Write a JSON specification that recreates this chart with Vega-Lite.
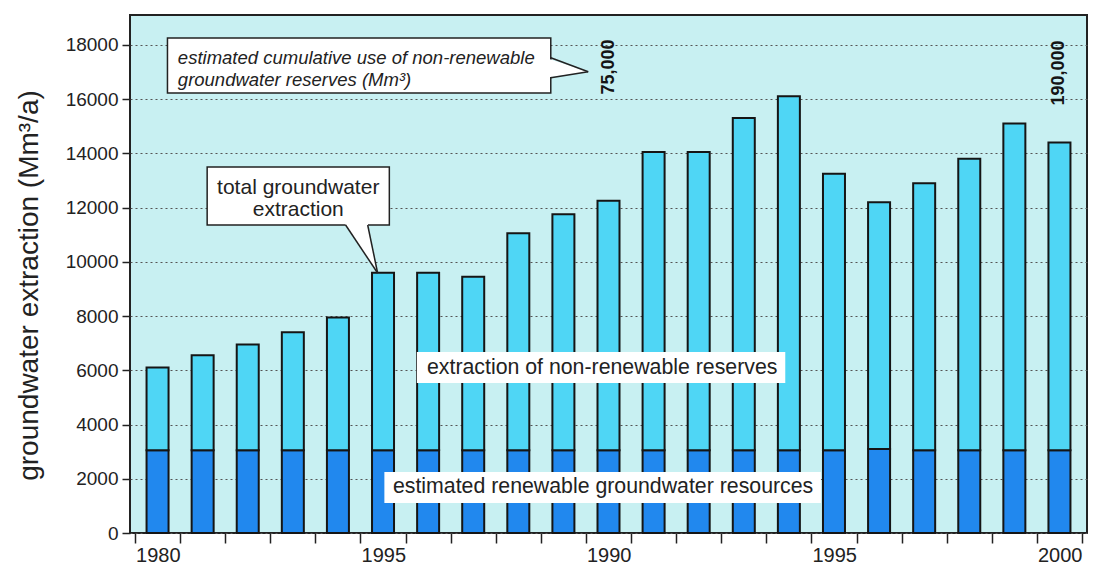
{
  "$schema": "https://vega.github.io/schema/vega-lite/v6.json",
  "width": 957,
  "height": 518,
  "autosize": {"type": "none"},
  "padding": {"left": 130, "top": 15, "right": 9, "bottom": 31},
  "background": "white",
  "config": {
    "font": "Liberation Sans",
    "view": {"fill": "#c8f0f2", "stroke": "#222222", "strokeWidth": 2},
    "axis": {"labelColor": "#222222", "titleColor": "#222222", "tickColor": "#222222", "labelFont": "Liberation Sans", "titleFont": "Liberation Sans"}
  },
  "datasets": {
    "extraction": [
      {"year": 1980, "component": "renewable", "value": 3050}, {"year": 1980, "component": "non-renewable", "value": 3050},
      {"year": 1981, "component": "renewable", "value": 3050}, {"year": 1981, "component": "non-renewable", "value": 3500},
      {"year": 1982, "component": "renewable", "value": 3050}, {"year": 1982, "component": "non-renewable", "value": 3900},
      {"year": 1983, "component": "renewable", "value": 3050}, {"year": 1983, "component": "non-renewable", "value": 4350},
      {"year": 1984, "component": "renewable", "value": 3050}, {"year": 1984, "component": "non-renewable", "value": 4900},
      {"year": 1985, "component": "renewable", "value": 3050}, {"year": 1985, "component": "non-renewable", "value": 6550},
      {"year": 1986, "component": "renewable", "value": 3050}, {"year": 1986, "component": "non-renewable", "value": 6550},
      {"year": 1987, "component": "renewable", "value": 3050}, {"year": 1987, "component": "non-renewable", "value": 6400},
      {"year": 1988, "component": "renewable", "value": 3050}, {"year": 1988, "component": "non-renewable", "value": 8000},
      {"year": 1989, "component": "renewable", "value": 3050}, {"year": 1989, "component": "non-renewable", "value": 8700},
      {"year": 1990, "component": "renewable", "value": 3050}, {"year": 1990, "component": "non-renewable", "value": 9200},
      {"year": 1991, "component": "renewable", "value": 3050}, {"year": 1991, "component": "non-renewable", "value": 11000},
      {"year": 1992, "component": "renewable", "value": 3050}, {"year": 1992, "component": "non-renewable", "value": 11000},
      {"year": 1993, "component": "renewable", "value": 3050}, {"year": 1993, "component": "non-renewable", "value": 12250},
      {"year": 1994, "component": "renewable", "value": 3050}, {"year": 1994, "component": "non-renewable", "value": 13050},
      {"year": 1995, "component": "renewable", "value": 3050}, {"year": 1995, "component": "non-renewable", "value": 10200},
      {"year": 1996, "component": "renewable", "value": 3100}, {"year": 1996, "component": "non-renewable", "value": 9100},
      {"year": 1997, "component": "renewable", "value": 3050}, {"year": 1997, "component": "non-renewable", "value": 9850},
      {"year": 1998, "component": "renewable", "value": 3050}, {"year": 1998, "component": "non-renewable", "value": 10750},
      {"year": 1999, "component": "renewable", "value": 3050}, {"year": 1999, "component": "non-renewable", "value": 12050},
      {"year": 2000, "component": "renewable", "value": 3050}, {"year": 2000, "component": "non-renewable", "value": 11350}
    ],
    "labelBoxes": [
      {"x1": 1985.75, "x2": 1993.92, "y1": 6677, "y2": 5533},
      {"x1": 1985.03, "x2": 1994.71, "y1": 2250, "y2": 1107}
    ],
    "callouts": [
      {"x1": 1980.22, "x2": 1988.72, "y1": 18252, "y2": 16224},
      {"x1": 1981.1, "x2": 1985.14, "y1": 13496, "y2": 11357}
    ],
    "pointerFill": [
      {"id": "a", "px": 1988.6, "py": 17521, "py2": 16783},
      {"id": "a", "px": 1989.55, "py": 17005, "py2": 17005},
      {"id": "b", "px": 1984.17, "py": 11430, "py2": 11357},
      {"id": "b", "px": 1984.66, "py": 11430, "py2": 10140},
      {"id": "b", "px": 1984.88, "py": 9587, "py2": 9587}
    ],
    "pointerLines": [
      {"x1": 1988.72, "y1": 17521, "x2": 1989.55, "y2": 17005},
      {"x1": 1989.55, "y1": 17005, "x2": 1988.72, "y2": 16783},
      {"x1": 1984.17, "y1": 11357, "x2": 1984.88, "y2": 9587},
      {"x1": 1984.66, "y1": 11357, "x2": 1984.88, "y2": 9587}
    ],
    "italicNote": [
      {"line": "estimated cumulative use of non-renewable", "x": 1980.45, "y": 17521},
      {"line": "groundwater reserves (Mm³)", "x": 1980.45, "y": 16710}
    ],
    "totalNote": [
      {"line": "total groundwater", "x": 1983.12, "y": 12721},
      {"line": "extraction", "x": 1983.12, "y": 11910}
    ],
    "areaLabels": [
      {"line": "extraction of non-renewable reserves", "x": 1989.86, "y": 6086},
      {"line": "estimated renewable groundwater resources", "x": 1989.88, "y": 1697}
    ],
    "cumulative": [
      {"line": "75,000", "x": 1990, "y": 17183},
      {"line": "190,000", "x": 2000, "y": 16962}
    ]
  },
  "layer": [
    {
      "data": {"name": "extraction"},
      "mark": {"type": "bar", "width": 22, "stroke": "#151515", "strokeWidth": 2},
      "encoding": {
        "x": {
          "field": "year", "type": "quantitative",
          "scale": {"domain": [1979.5, 2000.5], "nice": false, "zero": false},
          "axis": {
            "title": null, "grid": false, "domain": false,
            "values": [1979.5, 1980.5, 1981.5, 1982.5, 1983.5, 1984.5, 1985.5, 1986.5, 1987.5, 1988.5, 1989.5, 1990.5, 1991.5, 1992.5, 1993.5, 1994.5, 1995.5, 1996.5, 1997.5, 1998.5, 1999.5, 2000.5],
            "labelExpr": "datum.value == 1979.5 ? '1980' : datum.value == 1984.5 ? '1995' : datum.value == 1989.5 ? '1990' : datum.value == 1994.5 ? '1995' : datum.value == 1999.5 ? '2000' : ''",
            "labelOffset": 22.79, "labelOverlap": false, "labelFlush": false, "labelBound": false,
            "tickSize": 10, "tickWidth": 1.5, "labelFontSize": 20, "labelPadding": 2
          }
        },
        "y": {
          "field": "value", "type": "quantitative", "stack": "zero",
          "scale": {"domain": [0, 19100], "nice": false},
          "axis": {
            "title": "groundwater extraction (Mm³/a)", "titleFontSize": 28, "titleFontWeight": "normal", "titlePadding": 22, "titleY": 270,
            "values": [0, 2000, 4000, 6000, 8000, 10000, 12000, 14000, 16000, 18000], "format": "d",
            "grid": true, "gridDash": [2, 3], "gridColor": "#555555", "gridWidth": 1, "gridOpacity": 1,
            "domain": false, "tickSize": 8, "tickWidth": 1.5, "labelFontSize": 19, "labelPadding": 4
          }
        },
        "color": {
          "field": "component", "type": "nominal",
          "scale": {"domain": ["renewable", "non-renewable"], "range": ["#2188ee", "#4fd6f5"]},
          "legend": null
        },
        "order": {"field": "component", "sort": "descending"}
      }
    },
    {
      "data": {"name": "labelBoxes"},
      "mark": {"type": "rect", "fill": "white"},
      "encoding": {
        "x": {"field": "x1", "type": "quantitative"}, "x2": {"field": "x2"},
        "y": {"field": "y1", "type": "quantitative"}, "y2": {"field": "y2"}
      }
    },
    {
      "data": {"name": "callouts"},
      "mark": {"type": "rect", "fill": "white", "stroke": "#222222", "strokeWidth": 1.5},
      "encoding": {
        "x": {"field": "x1", "type": "quantitative"}, "x2": {"field": "x2"},
        "y": {"field": "y1", "type": "quantitative"}, "y2": {"field": "y2"}
      }
    },
    {
      "data": {"name": "pointerFill"},
      "mark": {"type": "area", "fill": "white", "orient": "vertical", "interpolate": "linear"},
      "encoding": {
        "x": {"field": "px", "type": "quantitative"},
        "y": {"field": "py", "type": "quantitative"}, "y2": {"field": "py2"},
        "detail": {"field": "id"}
      }
    },
    {
      "data": {"name": "pointerLines"},
      "mark": {"type": "rule", "stroke": "#222222", "strokeWidth": 1.5},
      "encoding": {
        "x": {"field": "x1", "type": "quantitative"}, "x2": {"field": "x2"},
        "y": {"field": "y1", "type": "quantitative"}, "y2": {"field": "y2"}
      }
    },
    {
      "data": {"name": "italicNote"},
      "mark": {"type": "text", "align": "left", "baseline": "middle", "fontSize": 18.5, "fontStyle": "italic", "color": "#222222"},
      "encoding": {
        "x": {"field": "x", "type": "quantitative"}, "y": {"field": "y", "type": "quantitative"},
        "text": {"field": "line"}
      }
    },
    {
      "data": {"name": "totalNote"},
      "mark": {"type": "text", "align": "center", "baseline": "middle", "fontSize": 21, "color": "#222222"},
      "encoding": {
        "x": {"field": "x", "type": "quantitative"}, "y": {"field": "y", "type": "quantitative"},
        "text": {"field": "line"}
      }
    },
    {
      "data": {"name": "areaLabels"},
      "mark": {"type": "text", "align": "center", "baseline": "middle", "fontSize": 21.3, "color": "#222222"},
      "encoding": {
        "x": {"field": "x", "type": "quantitative"}, "y": {"field": "y", "type": "quantitative"},
        "text": {"field": "line"}
      }
    },
    {
      "data": {"name": "cumulative"},
      "mark": {"type": "text", "align": "center", "baseline": "middle", "angle": 270, "fontSize": 18, "fontWeight": "bold", "color": "#151515"},
      "encoding": {
        "x": {"field": "x", "type": "quantitative"}, "y": {"field": "y", "type": "quantitative"},
        "text": {"field": "line"}
      }
    }
  ]
}
